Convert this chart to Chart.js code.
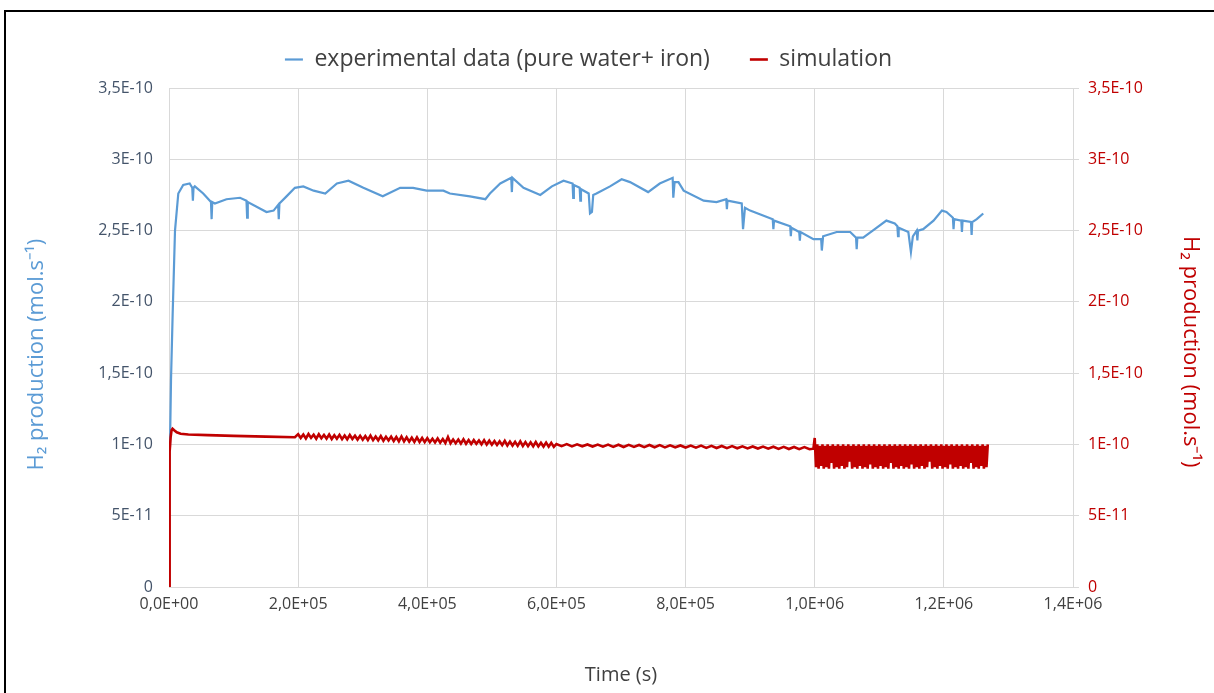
<!DOCTYPE html>
<html>
<head>
<meta charset="utf-8">
<script src="https://cdn.jsdelivr.net/npm/chart.js@4"></script>
<style>
	body { margin: 0; background: #fff; }
	#wrap { position: relative; width: 1214px; height: 693px; overflow: hidden; }
	#frame { position: absolute; left: 4px; top: 10px; width: 1300px; height: 800px; border-left: 2px solid #000; border-top: 2px solid #000; }
	canvas { position: absolute; left: 0; top: 0; }
</style>
</head>
<body>
<div id="wrap">
	<div id="frame"></div>
	<canvas id="h2chart" width="1214" height="693"></canvas>
</div>
<script>
// time in 1E+03 s, production in 1E-10 mol/s
var expTime = [1.5, 3.1, 5.7, 9.3, 14.4, 22, 32, 36, 37, 38, 40, 53, 65, 66, 67, 71, 89, 110, 120, 121, 122, 151, 162, 169, 170, 171, 182, 195, 208, 224, 242, 260, 278, 301, 331, 358, 378, 399, 425, 435, 466, 490, 497, 513, 530, 531, 532, 549, 575, 593, 611, 625, 626, 627, 636, 637, 638, 650, 652, 655, 657, 662, 683, 701, 714, 742, 760, 780, 781, 783, 789, 797, 828, 848, 863, 864, 865, 887, 889, 892, 900, 935, 936, 937, 962, 963, 964, 976, 977, 978, 998, 1010, 1011, 1013, 1034, 1055, 1064, 1065, 1066, 1075, 1093, 1111, 1124, 1128, 1129, 1130, 1145, 1149, 1152, 1158, 1159, 1160, 1168, 1184, 1197, 1204, 1214, 1215, 1216, 1227, 1228, 1229, 1242, 1243, 1244, 1251, 1261];
var expValue = [0.98, 1.45, 1.92, 2.50, 2.76, 2.82, 2.83, 2.80, 2.71, 2.80, 2.81, 2.76, 2.70, 2.58, 2.70, 2.69, 2.72, 2.73, 2.71, 2.59, 2.70, 2.63, 2.64, 2.68, 2.58, 2.69, 2.74, 2.80, 2.81, 2.78, 2.76, 2.83, 2.85, 2.80, 2.74, 2.80, 2.80, 2.78, 2.78, 2.76, 2.74, 2.72, 2.76, 2.83, 2.87, 2.77, 2.87, 2.80, 2.75, 2.81, 2.85, 2.83, 2.73, 2.82, 2.80, 2.71, 2.79, 2.76, 2.62, 2.63, 2.75, 2.76, 2.81, 2.86, 2.84, 2.77, 2.83, 2.87, 2.73, 2.84, 2.84, 2.78, 2.71, 2.70, 2.72, 2.65, 2.71, 2.69, 2.51, 2.66, 2.64, 2.58, 2.51, 2.57, 2.53, 2.46, 2.52, 2.49, 2.43, 2.49, 2.44, 2.44, 2.36, 2.46, 2.49, 2.49, 2.45, 2.37, 2.45, 2.45, 2.51, 2.57, 2.55, 2.53, 2.46, 2.52, 2.49, 2.35, 2.46, 2.50, 2.43, 2.50, 2.51, 2.57, 2.64, 2.63, 2.59, 2.51, 2.58, 2.57, 2.49, 2.57, 2.56, 2.47, 2.56, 2.58, 2.62];

var simTime = [0, 0.5, 1, 1.5, 2.5, 4, 5.5, 8, 12, 18, 30, 60, 100, 150, 195,
	200, 204, 208, 212, 216, 220, 224, 228, 232, 236, 240, 244, 248, 252, 256, 260, 264, 268, 272, 276, 280, 284, 288, 292, 296,
	300, 304, 308, 312, 316, 320, 324, 328, 332, 336, 340, 344, 348, 352, 356, 360, 364, 368, 372, 376, 380, 384, 388, 392, 396,
	400, 404, 408, 412, 416, 420, 424, 428, 432, 436, 440, 444, 448, 452, 456, 460, 464, 468, 472, 476, 480, 484, 488, 492, 496,
	500, 504, 508, 512, 516, 520, 524, 528, 532, 536, 540, 544, 548, 552, 556, 560, 564, 568, 572, 576, 580, 584, 588, 592, 596,
	600, 608, 616, 624, 632, 640, 648, 656, 664, 672, 680, 688, 696, 704, 712, 720, 728, 736, 744, 752, 760, 768, 776, 784, 792,
	800, 808, 816, 824, 832, 840, 848, 856, 864, 872, 880, 888, 896, 904, 912, 920, 928, 936, 944, 952, 960, 968, 976, 984, 992,
	998, 1000,
	1002, 1004, 1006, 1008, 1010, 1012, 1014, 1016, 1018, 1020,
	1022, 1024, 1026, 1028, 1030, 1032, 1034, 1036, 1038, 1040,
	1042, 1044, 1046, 1048, 1050, 1052, 1054, 1056, 1058, 1060,
	1062, 1064, 1066, 1068, 1070, 1072, 1074, 1076, 1078, 1080,
	1082, 1084, 1086, 1088, 1090, 1092, 1094, 1096, 1098, 1100,
	1102, 1104, 1106, 1108, 1110, 1112, 1114, 1116, 1118, 1120,
	1122, 1124, 1126, 1128, 1130, 1132, 1134, 1136, 1138, 1140,
	1142, 1144, 1146, 1148, 1150, 1152, 1154, 1156, 1158, 1160,
	1162, 1164, 1166, 1168, 1170, 1172, 1174, 1176, 1178, 1180,
	1182, 1184, 1186, 1188, 1190, 1192, 1194, 1196, 1198, 1200,
	1202, 1204, 1206, 1208, 1210, 1212, 1214, 1216, 1218, 1220,
	1222, 1224, 1226, 1228, 1230, 1232, 1234, 1236, 1238, 1240,
	1242, 1244, 1246, 1248, 1250, 1252, 1254, 1256, 1258, 1260,
	1262, 1264, 1266, 1268];
var simValue = [0, 0.4, 0.8, 0.95, 1.05, 1.10, 1.11, 1.10, 1.085, 1.075, 1.07, 1.065, 1.06, 1.055, 1.05,
	1.072, 1.045, 1.070, 1.042, 1.073, 1.046, 1.068, 1.040, 1.071, 1.043, 1.066, 1.041, 1.069, 1.038, 1.065, 1.040, 1.067, 1.037, 1.063, 1.036, 1.066, 1.038, 1.061, 1.034, 1.060,
	1.033, 1.059, 1.031, 1.062, 1.030, 1.056, 1.029, 1.058, 1.026, 1.054, 1.028, 1.055, 1.024, 1.052, 1.022, 1.056, 1.021, 1.050, 1.020, 1.047, 1.018, 1.049, 1.017, 1.045, 1.016,
	1.044, 1.015, 1.040, 1.014, 1.042, 1.012, 1.038, 1.010, 1.052, 1.008, 1.035, 1.009, 1.034, 1.006, 1.036, 1.005, 1.031, 1.003, 1.030, 1.004, 1.028, 1.001, 1.030, 0.999, 1.026,
	0.998, 1.024, 0.996, 1.022, 0.995, 1.025, 0.993, 1.020, 0.992, 1.018, 0.990, 1.021, 0.989, 1.016, 0.988, 1.015, 0.987, 1.017, 0.986, 1.012, 0.985, 1.013, 0.984, 1.011, 0.983,
	1.003, 0.988, 1.002, 0.986, 1.001, 0.987, 1.000, 0.985, 0.999, 0.984, 0.999, 0.983, 0.998, 0.982, 0.997, 0.983, 0.996, 0.981, 0.996, 0.980, 0.995, 0.979, 0.994, 0.980, 0.993,
	0.978, 0.992, 0.977, 0.992, 0.976, 0.990, 0.975, 0.989, 0.974, 0.988, 0.973, 0.987, 0.972, 0.986, 0.971, 0.985, 0.970, 0.984, 0.969, 0.983, 0.968, 0.982, 0.967, 0.981, 0.966,
	0.970, 1.045,
	0.84, 1.00, 0.83, 0.99, 0.85, 1.00, 0.83, 0.99, 0.84, 1.00,
	0.83, 0.99, 0.87, 1.00, 0.83, 0.99, 0.84, 1.00, 0.83, 0.99,
	0.85, 1.00, 0.83, 0.99, 0.84, 1.00, 0.88, 0.99, 0.83, 1.00,
	0.84, 0.99, 0.83, 1.00, 0.85, 0.99, 0.83, 1.00, 0.84, 0.99,
	0.83, 1.00, 0.86, 0.99, 0.83, 1.00, 0.84, 0.99, 0.83, 1.00,
	0.85, 0.99, 0.83, 1.00, 0.84, 0.99, 0.83, 1.00, 0.87, 0.99,
	0.83, 1.00, 0.84, 0.99, 0.83, 1.00, 0.85, 0.99, 0.83, 1.00,
	0.84, 0.99, 0.83, 1.00, 0.86, 0.99, 0.83, 1.00, 0.84, 0.99,
	0.83, 1.00, 0.85, 0.99, 0.83, 1.00, 0.84, 0.99, 0.88, 1.00,
	0.83, 0.99, 0.84, 1.00, 0.83, 0.99, 0.85, 1.00, 0.83, 0.99,
	0.84, 1.00, 0.83, 0.99, 0.86, 1.00, 0.83, 0.99, 0.84, 1.00,
	0.83, 0.99, 0.85, 1.00, 0.83, 0.99, 0.84, 1.00, 0.83, 0.99,
	0.87, 1.00, 0.83, 0.99, 0.84, 1.00, 0.83, 0.99, 0.85, 1.00,
	0.83, 0.99, 0.84, 1.00];

var xTickLabels = ["0,0E+00", "2,0E+05", "4,0E+05", "6,0E+05", "8,0E+05", "1,0E+06", "1,2E+06", "1,4E+06"];
var yTickLabels = ["0", "5E-11", "1E-10", "1,5E-10", "2E-10", "2,5E-10", "3E-10", "3,5E-10"];

function toPoints(xs, ys) {
	return xs.map(function (x, i) {
		return { x: x, y: ys[i] };
	});
}

Chart.defaults.font.family = "'Open Sans', sans-serif";
Chart.defaults.font.size = 16;

// centre the legend over the same spot as the original
const legendShift = {
	id: "legendShift",
	afterLayout: function (chart) {
		chart.legend.left -= 25;
		chart.legend.right -= 25;
	},
};

const ctx = document.getElementById("h2chart");
const myChart = new Chart(ctx, {
	type: "line",
	data: {
		datasets: [
			{
				label: "experimental data (pure water+ iron)",
				data: toPoints(expTime, expValue),
				borderColor: "#5B9BD5",
				backgroundColor: "#5B9BD5",
				borderWidth: 2.2,
				pointRadius: 0,
				yAxisID: "y",
				order: 1,
			},
			{
				label: "simulation",
				data: toPoints(simTime, simValue),
				borderColor: "#C00000",
				backgroundColor: "#C00000",
				borderWidth: 2.6,
				pointRadius: 0,
				yAxisID: "y2",
				order: 0,
			},
		],
	},
	options: {
		responsive: false,
		animation: false,
		layout: {
			padding: { left: 20, right: 7, top: 8, bottom: 2 },
		},
		plugins: {
			legend: {
				display: true,
				position: "top",
				reverse: true,
				labels: {
					usePointStyle: true,
					pointStyle: "line",
					pointStyleWidth: 18,
					padding: 40,
					color: "#404040",
					font: { size: 23 },
				},
			},
			// empty title used as a spacer between legend and plot
			title: {
				display: true,
				text: "",
				weight: 500,
				padding: 0,
				font: { size: 7, lineHeight: 1 },
			},
			tooltip: { enabled: false },
		},
		scales: {
			x: {
				type: "linear",
				min: 0,
				max: 1400,
				afterFit: function (scale) {
					scale.height = 104;
				},
				ticks: {
					stepSize: 200,
					autoSkip: false,
					maxRotation: 0,
					padding: 8,
					color: "#404040",
					callback: function (value, index) {
						return xTickLabels[index];
					},
				},
				grid: { color: "#D9D9D9", drawTicks: false },
				border: { color: "#D9D9D9" },
				title: {
					display: true,
					text: "Time (s)",
					color: "#404040",
					font: { size: 20 },
					padding: { top: 4, bottom: 4 },
				},
			},
			y: {
				position: "left",
				min: 0,
				max: 3.5,
				afterFit: function (scale) {
					scale.width = 149;
				},
				ticks: {
					stepSize: 0.5,
					padding: 16,
					color: "#44546A",
					callback: function (value, index) {
						return yTickLabels[index];
					},
				},
				grid: { color: "#D9D9D9", drawTicks: false },
				border: { display: false },
				title: {
					display: true,
					text: "H₂ production (mol.s⁻¹)      ",
					color: "#5B9BD5",
					font: { size: 22 },
				},
			},
			y2: {
				position: "right",
				min: 0,
				max: 3.5,
				afterFit: function (scale) {
					scale.width = 134;
				},
				ticks: {
					stepSize: 0.5,
					padding: 9,
					color: "#C00000",
					callback: function (value, index) {
						return yTickLabels[index];
					},
				},
				grid: { drawOnChartArea: false, color: "#D9D9D9", tickLength: 6 },
				border: { color: "#D9D9D9" },
				title: {
					display: true,
					text: "     H₂ production (mol.s⁻¹)",
					color: "#C00000",
					font: { size: 22 },
				},
			},
		},
	},
	plugins: [legendShift],
});
</script>
</body>
</html>
